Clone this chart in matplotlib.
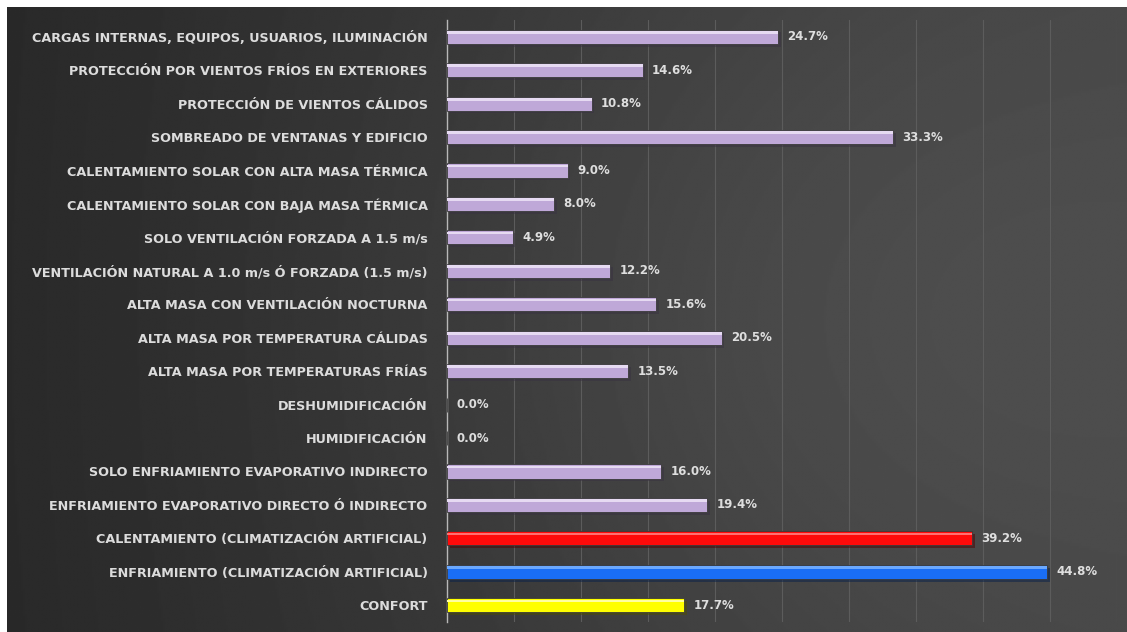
import numpy as np
import matplotlib
matplotlib.use("Agg")
import matplotlib.pyplot as plt
import matplotlib.patheffects as pe

# categorias de baixo para cima
categorias = [
    "CONFORT",
    "ENFRIAMIENTO (CLIMATIZACIÓN ARTIFICIAL)",
    "CALENTAMIENTO (CLIMATIZACIÓN ARTIFICIAL)",
    "ENFRIAMIENTO EVAPORATIVO DIRECTO Ó INDIRECTO",
    "SOLO ENFRIAMIENTO EVAPORATIVO INDIRECTO",
    "HUMIDIFICACIÓN",
    "DESHUMIDIFICACIÓN",
    "ALTA MASA POR TEMPERATURAS FRÍAS",
    "ALTA MASA POR TEMPERATURA CÁLIDAS",
    "ALTA MASA CON VENTILACIÓN NOCTURNA",
    "VENTILACIÓN NATURAL A 1.0 m/s Ó FORZADA (1.5 m/s)",
    "SOLO VENTILACIÓN FORZADA A 1.5 m/s",
    "CALENTAMIENTO SOLAR CON BAJA MASA TÉRMICA",
    "CALENTAMIENTO SOLAR CON ALTA MASA TÉRMICA",
    "SOMBREADO DE VENTANAS Y EDIFICIO",
    "PROTECCIÓN DE VIENTOS CÁLIDOS",
    "PROTECCIÓN POR VIENTOS FRÍOS EN EXTERIORES",
    "CARGAS INTERNAS, EQUIPOS, USUARIOS, ILUMINACIÓN",
]
valores = [17.7, 44.8, 39.2, 19.4, 16.0, 0.0, 0.0, 13.5, 20.5, 15.6,
           12.2, 4.9, 8.0, 9.0, 33.3, 10.8, 14.6, 24.7]
cores = ["#ffff00", "#1a6ef5", "#ff0a0a"] + ["#bfa8d8"] * 15
brilho = ["#ffffa0", "#6aa8ff", "#ff7070"] + ["#e6daf2"] * 15

fig = plt.figure(figsize=(11.27, 6.32), dpi=100, facecolor="white")

# fundo escuro com gradiente (mais escuro a esquerda)
bg = fig.add_axes([7 / 1127, 0, 1 - 7 / 1127, 625 / 632])
xx, yy = np.meshgrid(np.linspace(0, 1, 600), np.linspace(0, 1, 300))
grad = 0.16 + 0.10 * xx + 0.06 * np.exp(-((xx - 0.75) ** 2 / 0.2 + (yy - 0.5) ** 2 / 0.5))
bg.imshow(grad, cmap="gray", vmin=0, vmax=1, aspect="auto", extent=[0, 1, 0, 1],
          interpolation="bilinear")
bg.axis("off")

ax = fig.add_axes([447 / 1127, 10 / 632, 670 / 1127, 602 / 632])
ax.patch.set_alpha(0)
y = np.arange(len(categorias))

barras = ax.barh(y, valores, height=0.42, color=cores, edgecolor="#3a3a3a",
                 linewidth=0.6, zorder=3)
for b, v in zip(barras, valores):
    if v > 0:
        b.set_path_effects([pe.SimplePatchShadow(offset=(2, -2), alpha=0.5), pe.Normal()])
# faixa clara no topo (efeito de bisel)
ax.barh(y + 0.13, valores, height=0.08, color=brilho, linewidth=0, zorder=4)

for yi, v in zip(y, valores):
    ax.text(v + 0.7, yi, f"{v:.1f}%", va="center", ha="left", color="#dedede",
            fontsize=8.5, fontweight="bold", zorder=5)

ax.set_xlim(0, 50)
ax.set_ylim(-0.5, len(categorias) - 0.5)
ax.set_xticks(np.arange(5, 51, 5))
ax.set_xticklabels([])
ax.tick_params(axis="x", length=0)
ax.set_yticks(y)
ax.set_yticklabels(categorias, color="#dcdcdc", fontsize=9.2, fontweight="bold")
ax.tick_params(axis="y", length=0, pad=14)
ax.grid(axis="x", color="#5c5c5c", linewidth=0.8, zorder=0)
for s in ["top", "right", "bottom"]:
    ax.spines[s].set_visible(False)
ax.spines["left"].set_color("#b8b8b8")
ax.spines["left"].set_linewidth(1.0)

fig.savefig("out.png", dpi=100)
